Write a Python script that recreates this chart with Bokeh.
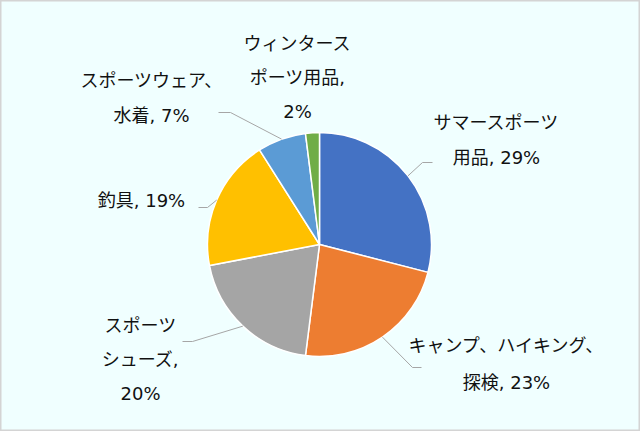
import math
from bokeh.plotting import figure
from bokeh.models import Range1d, ColumnDataSource
from bokeh.core.properties import value
from bokeh.embed import file_html
from bokeh.resources import INLINE

# ---- data ----
categories = ["サマースポーツ用品", "キャンプ、ハイキング、探検", "スポーツシューズ",
              "釣具", "スポーツウェア、水着", "ウィンタースポーツ用品"]
shares = [29, 23, 20, 19, 7, 2]
colors = ["#4472C4", "#ED7D31", "#A5A5A5", "#FFC000", "#5B9BD5", "#70AD47"]

# ---- layout (image pixel coordinates) ----
W, H = 640, 431
CX, CY, R = 319, 244, 112
# character indices where each label wraps
label_breaks = [[7], [11], [4, 9], [], [8], [6, 12]]
# (center x, first line y, line spacing)
label_anchor = [(496, 122, 35), (506, 345, 37), (140, 325, 34),
                (141, 200, 0), (151, 80, 35), (297, 43, 34)]
# leader line: elbow point and end point (None = no leader)
leader_pts = [((422, 162), (432, 162)), ((412, 367), (421, 367)),
              ((192, 341), (182, 341)), ((207, 207), (198, 207)),
              ((230, 112), (218, 112)), None]

p = figure(width=W, height=H, output_backend="svg", toolbar_location=None,
           x_range=Range1d(0, W), y_range=Range1d(H, 0), min_border=0)
p.axis.visible = False
p.grid.visible = False
p.background_fill_color = "#F0FFFF"
p.border_fill_color = "#F0FFFF"
p.outline_line_color = "#D4D4D4"
p.outline_line_width = 2

total = sum(shares)
starts, ends, mids = [], [], []
acc = 0.0
for s in shares:
    a0 = math.pi / 2 - 2 * math.pi * acc / total
    acc += s
    a1 = math.pi / 2 - 2 * math.pi * acc / total
    starts.append(a0)
    ends.append(a1)
    mids.append((a0 + a1) / 2)

src = ColumnDataSource(dict(x=[CX] * len(shares), y=[CY] * len(shares),
                            start=starts, end=ends, color=colors))
p.wedge(x="x", y="y", radius=R, radius_units="screen", start_angle="start",
        end_angle="end", direction="clock", fill_color="color",
        line_color="white", line_width=1.5, source=src)

# leader lines
for i, lp in enumerate(leader_pts):
    if lp is None:
        continue
    sx = CX + R * math.cos(mids[i])
    sy = CY - R * math.sin(mids[i])
    (ex, ey), (fx, fy) = lp
    p.line([sx, ex, fx], [sy, ey, fy], line_color="#A6A6A6", line_width=1)

# labels
lx, ly, lt = [], [], []
for i, (cat, s) in enumerate(zip(categories, shares)):
    full = f"{cat}, {s}%"
    cuts = [0] + label_breaks[i] + [len(full)]
    lines = [full[cuts[k]:cuts[k + 1]].strip() for k in range(len(cuts) - 1)]
    x0, y0, dy = label_anchor[i]
    for k, t in enumerate(lines):
        lx.append(x0)
        ly.append(y0 + k * dy)
        lt.append(t)
p.text(x=lx, y=ly, text=lt, text_align="center", text_baseline="middle",
       text_font=value("'DejaVu Sans', 'Noto Sans CJK JP'"), text_font_size="18px",
       text_color="#111111")

open("out.html", "w").write(file_html(p, INLINE))
